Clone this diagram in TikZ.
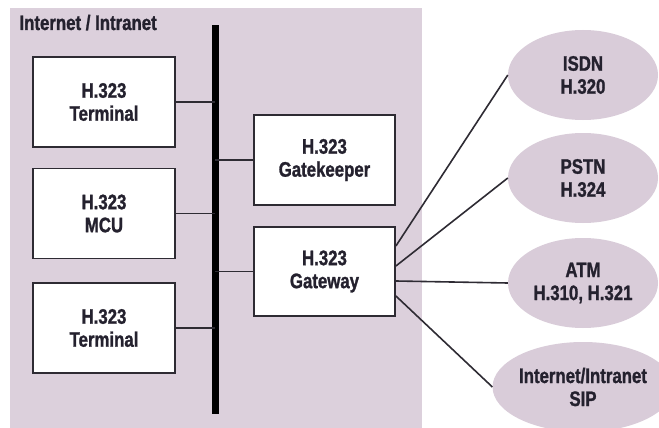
\documentclass[tikz,border=0pt]{standalone}
\usepackage{fontspec}
\setmainfont[FakeStretch=0.8, BoldFeatures={FakeBold=1.2}]{Liberation Sans}
\usetikzlibrary{shapes.geometric,calc}
\definecolor{bgc}{HTML}{DCD0DC}
\definecolor{ellc}{HTML}{D9CCD9}
\definecolor{inkc}{HTML}{24212E}
\definecolor{linec}{HTML}{2E2B33}
\tikzset{
  lbl/.style={font=\bfseries\fontsize{21}{23}\selectfont, text=inkc, align=center},
  box/.style={lbl, draw=linec, line width=1.8pt, fill=white, minimum width=142pt, minimum height=90pt, inner sep=0pt},
  net/.style={lbl, ellipse, fill=ellc, minimum width=150pt, minimum height=90pt, inner sep=0pt},
  conn/.style={draw=linec, line width=1.6pt},
}
\begin{document}
\begin{tikzpicture}[x=1pt,y=-1pt]
\useasboundingbox[fill=white] (0,0) rectangle (659,428);
\fill[bgc] (10,8) rectangle (422,428);
\node[lbl, anchor=base west] (title) at (16,30) {Internet / Intranet};
\node[fill=black, minimum width=7pt, minimum height=389pt, inner sep=0pt] (bus) at (215,219.5) {};
\node[box] (t1) at (104,102) {H.323\\Terminal};
\node[box] (mcu) at (104,213.5) {H.323\\MCU};
\node[box] (t2) at (104,328) {H.323\\Terminal};
\node[box, minimum width=141pt] (gk) at (324.5,160) {H.323\\Gatekeeper};
\node[box, minimum width=141pt, minimum height=89pt] (gw) at (324.5,271.5) {H.323\\Gateway};
\node[net] (isdn) at (583,75) {ISDN\\H.320};
\node[net] (pstn) at (583,178) {PSTN\\H.324};
\node[net] (atm) at (583,283) {ATM\\H.310, H.321};
\node[net] (sip) at (583,387) {Internet/Intranet\\SIP};
\draw[conn] (t1.east) -- (t1.east -| bus.center);
\draw[conn] (mcu.east) -- (mcu.east -| bus.center);
\draw[conn] (t2.east) -- (t2.east -| bus.center);
\draw[conn] (gk.west) -- (gk.west -| bus.center);
\draw[conn] (gw.west) -- (gw.west -| bus.center);
\draw[conn] ($(gw.east)+(0,-25.5)$) -- (isdn.west);
\draw[conn] ($(gw.east)+(0,-5.5)$) -- (pstn.west);
\draw[conn] ($(gw.east)+(0,9.5)$) -- (atm.west);
\draw[conn] ($(gw.east)+(0,24.5)$) -- (sip.west);
\end{tikzpicture}
\end{document}
